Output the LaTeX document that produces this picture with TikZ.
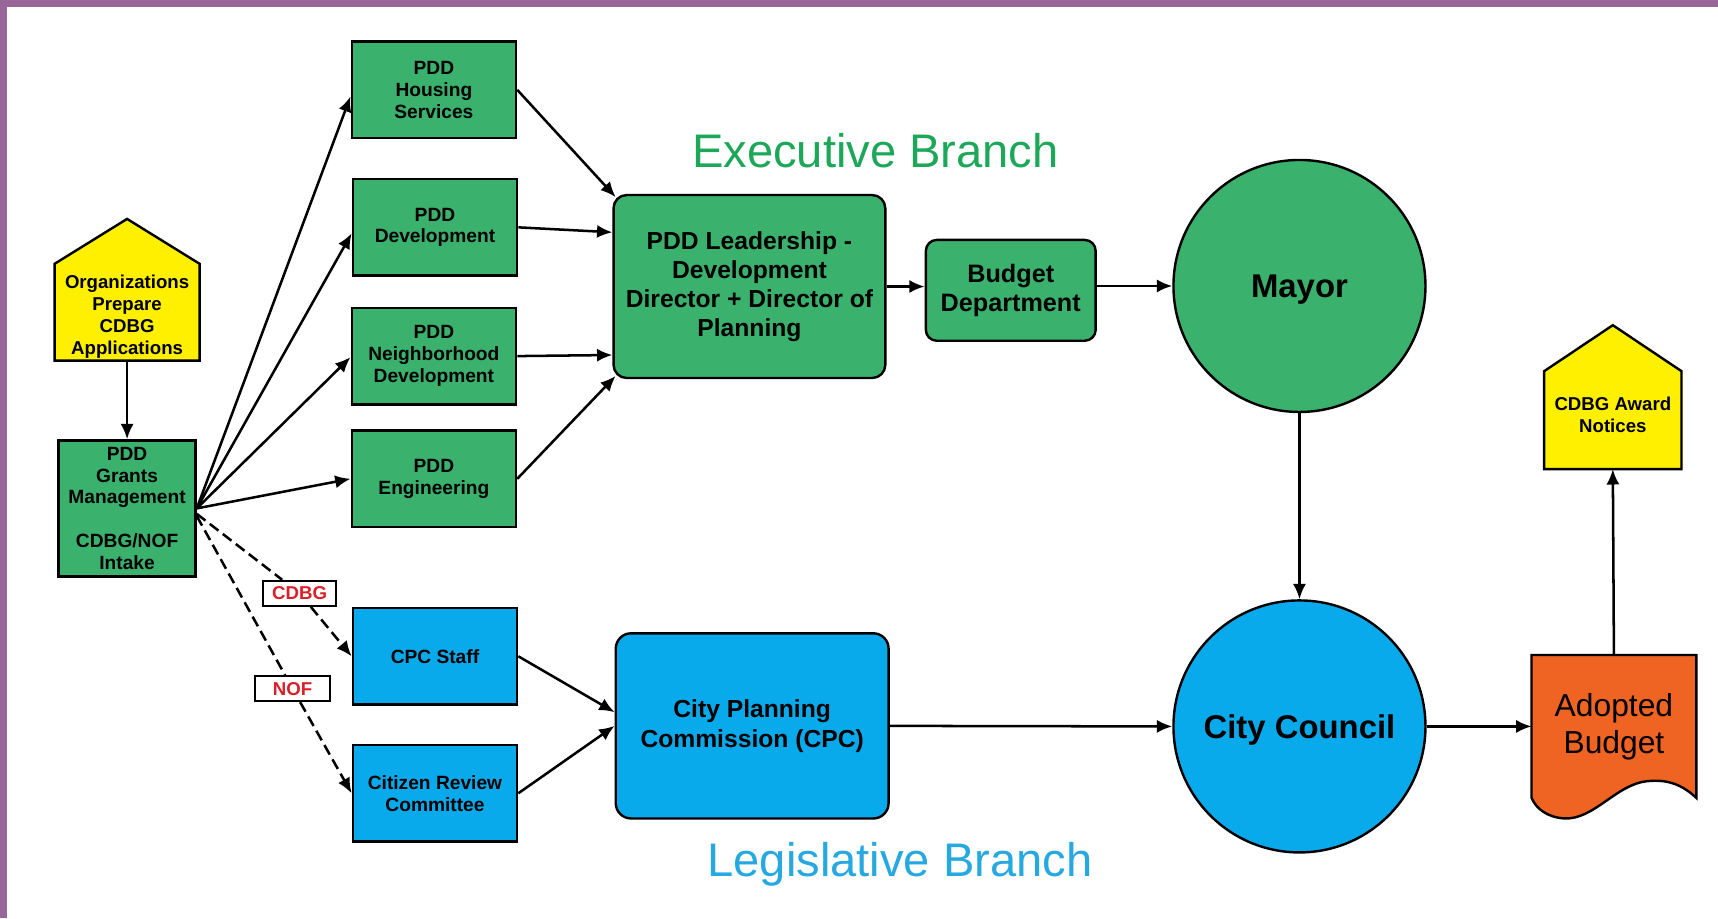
\documentclass[tikz,border=0pt]{standalone}
\usepackage{fontspec}
\setmainfont{Liberation Sans}
\usetikzlibrary{arrows.meta,backgrounds}
\definecolor{pgreen}{RGB}{58,178,110}
\definecolor{pblue}{RGB}{8,170,235}
\definecolor{pyellow}{RGB}{255,240,0}
\definecolor{porange}{RGB}{240,100,35}
\definecolor{ppurple}{RGB}{153,102,153}
\definecolor{exgreen}{RGB}{28,168,88}
\definecolor{legblue}{RGB}{38,168,224}
\definecolor{lblred}{RGB}{220,30,40}
\tikzset{
 basebox/.style={draw=black, line width=2.2pt, inner sep=0pt, align=center, font=\bfseries\fontsize{17.5}{20}\selectfont},
 gbox/.style={basebox, fill=pgreen, minimum width=150pt, minimum height=88pt},
 bbox/.style={basebox, fill=pblue, minimum width=150pt, minimum height=88pt},
 bigbox/.style={basebox, rounded corners=12pt, font=\bfseries\fontsize{22.5}{26.5}\selectfont},
 circ/.style={circle, draw=black, line width=2.2pt, minimum size=230pt, inner sep=0pt, text height=21.5pt, text depth=0pt, font=\bfseries\fontsize{30}{34}\selectfont},
 housebody/.style={inner sep=0pt, align=center, font=\bfseries\fontsize{17}{20}\selectfont},
 lbl/.style={draw=black, line width=1.6pt, fill=white, inner sep=0pt, minimum height=23pt, text=lblred, font=\bfseries\fontsize{17}{20}\selectfont},
 conn/.style={line width=2.3pt, arrows={-Latex[length=14pt,width=12pt]}},
 dconn/.style={conn, dash pattern=on 10pt off 5pt},
 shapeline/.style={draw=black, line width=2.2pt, line join=miter},
 branch/.style={font=\fontsize{43}{50}\selectfont, anchor=base, inner sep=0pt}
}
\begin{document}
\begin{tikzpicture}[x=1pt,y=-1pt]
\begin{pgfonlayer}{background}
\fill[white] (0,0) rectangle (1568,838);
\fill[ppurple] (0,0) rectangle (1568,6);
\fill[ppurple] (0,0) rectangle (6,838);
\end{pgfonlayer}
\useasboundingbox (0,0) rectangle (1568,838);

% yellow / orange bodies (outlines drawn on background layer)
\node[minimum width=132pt, minimum height=88pt, inner sep=0pt,
      label={[housebody, yshift=-4pt]center:Organizations\\Prepare\\CDBG\\Applications}] (org) at (116,285) {};
\node[minimum width=125pt, minimum height=89pt, inner sep=0pt,
      label={[housebody, yshift=5pt]center:CDBG Award\\Notices}] (award) at (1472,383.5) {};
\node[inner sep=0pt, align=center, minimum width=150pt, minimum height=130pt, font=\fontsize{29}{34}\selectfont] (adopted) at (1473,663) {Adopted\\Budget};

\begin{pgfonlayer}{background}
\draw[shapeline, fill=pyellow] (org.south west) -- (org.south east) -- (org.north east) -- ([yshift=41pt]org.north) -- (org.north west) -- cycle;
\draw[shapeline, fill=pyellow] (award.south west) -- (award.south east) -- (award.north east) -- ([yshift=42pt]award.north) -- (award.north west) -- cycle;
\draw[shapeline, fill=porange] (adopted.north west) -- (adopted.north east) -- (adopted.south east)
  .. controls (1535,716) and (1522,711) .. (1503,713)
  .. controls (1475,716) and (1455,748) .. (1428,747)
  .. controls (1412,746) and (1402,738) .. (adopted.south west) -- cycle;
\end{pgfonlayer}

% green nodes
\node[basebox, fill=pgreen, minimum width=125pt, minimum height=124pt] (grants) at (116,464) {PDD\\Grants\\Management\\[20pt]CDBG/NOF\\Intake};
\node[gbox] (housing) at (396,82) {PDD\\Housing\\Services};
\node[gbox] (devel) at (397,207.5) {PDD\\Development};
\node[gbox] (neigh) at (396,325) {PDD\\Neighborhood\\Development};
\node[gbox] (engin) at (396,437) {PDD\\Engineering};
\node[bigbox, fill=pgreen, minimum width=248pt, minimum height=167pt] (lead) at (684,261.5) {PDD Leadership -\\Development\\Director + Director of\\Planning};
\node[bigbox, fill=pgreen, rounded corners=10pt, minimum width=155pt, minimum height=92pt, font=\bfseries\fontsize{23}{26}\selectfont] (budget) at (922.5,265) {Budget\\Department};
\node[circ, fill=pgreen] (mayor) at (1186,261) {Mayor};

% blue nodes
\node[bbox] (cpcstaff) at (397,599) {CPC Staff};
\node[bbox] (citizen) at (397,724) {Citizen Review\\Committee};
\node[bigbox, fill=pblue, rounded corners=14pt, minimum width=249pt, minimum height=169pt, font=\bfseries\fontsize{22.5}{27}\selectfont] (cpc) at (686.5,662.5) {City Planning\\Commission (CPC)};
\node[circ, fill=pblue] (council) at (1186,663) {City Council};

% labels
\node[lbl, minimum width=67pt] (cdbg) at (273.5,541.5) {CDBG};
\node[lbl, minimum width=68pt] (nof) at (267,628.5) {NOF};

\node[branch, text=exgreen] (exec) at (799,153) {Executive Branch};
\node[branch, text=legblue] (legis) at (821.5,800) {Legislative Branch};

% connectors
\draw[conn] (org.south) -- (grants.north);
\draw[conn] (grants.east) -- ([yshift=-6pt]housing.west);
\draw[conn] (grants.east) -- ([yshift=-5.5pt]devel.west);
\draw[conn] (grants.east) -- ([yshift=-1pt]neigh.west);
\draw[conn] (grants.east) -- (engin.west);
\draw[dconn] ([yshift=-5pt]grants.east) -- (cdbg) -- (cpcstaff.west);
\draw[dconn] ([yshift=-7pt]grants.east) -- (nof) -- (citizen.west);

\draw[conn] (housing.east) -- ([xshift=3pt,yshift=-3pt]lead.north west);
\draw[conn] (devel.east) -- ([yshift=49.5pt]lead.west);
\draw[conn] (neigh.east) -- ([yshift=-62.5pt]lead.west);
\draw[conn] (engin.east) -- ([xshift=3pt,yshift=3pt]lead.south west);
\draw[conn] (lead.east) -- (lead.east -| budget.west);
\draw[conn] (budget.east |- mayor.west) -- (mayor.west);
\draw[conn] (mayor) -- (council);

\draw[conn] (cpcstaff.east) -- ([yshift=12.5pt]cpc.west);
\draw[conn] (citizen.east) -- (cpc.west);
\draw[conn] (cpc.east) -- (council.west);
\draw[conn] (council.east) -- (adopted.west);
\draw[conn] (adopted.north) -- (award.south);
\end{tikzpicture}
\end{document}
